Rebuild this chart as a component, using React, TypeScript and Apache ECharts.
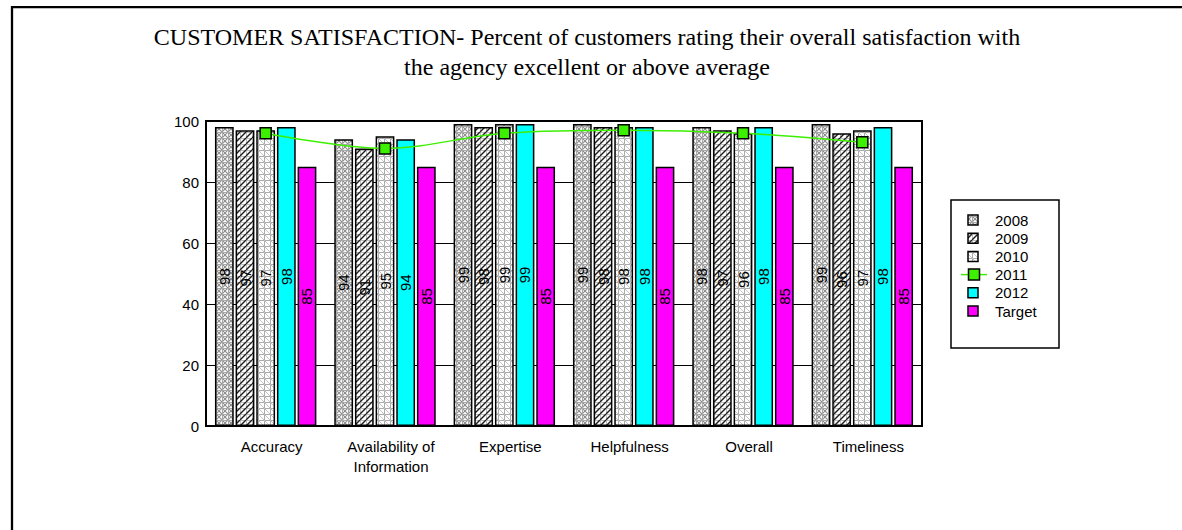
import React, { useEffect, useRef } from 'react';
import * as echarts from 'echarts';

// Survey categories and yearly results (percent rating excellent / above average)
const categories = ['Accuracy', 'Availability of\nInformation', 'Expertise', 'Helpfulness', 'Overall', 'Timeliness'];
const values2008 = [98, 94, 99, 99, 98, 99];
const values2009 = [97, 91, 98, 98, 97, 96];
const values2010 = [97, 95, 99, 98, 96, 97];
const values2011 = [96, 91, 96, 97, 96, 93];
const values2012 = [98, 94, 99, 98, 98, 98];
const valuesTarget = [85, 85, 85, 85, 85, 85];
const legendNames = ['2008', '2009', '2010', '2011', '2012', 'Target'];
const titleLines = [
  'CUSTOMER SATISFACTION- Percent of customers rating their overall satisfaction with',
  'the agency excellent or above average',
];

const GREEN = '#3cf000';
const CYAN = '#00ffff';
const MAGENTA = '#ff00ff';
const SANS = '"Liberation Sans", Arial, sans-serif';
const SERIF = '"Liberation Serif", "Times New Roman", serif';

type Painter = (ctx: CanvasRenderingContext2D, s: number) => void;

function tile(size: number, paint: Painter) {
  const c = document.createElement('canvas');
  c.width = size;
  c.height = size;
  const ctx = c.getContext('2d') as CanvasRenderingContext2D;
  ctx.fillStyle = '#ffffff';
  ctx.fillRect(0, 0, size, size);
  paint(ctx, size);
  return { image: c.toDataURL(), repeat: 'repeat', imageWidth: size, imageHeight: size } as any;
}

function seg(ctx: CanvasRenderingContext2D, x1: number, y1: number, x2: number, y2: number) {
  ctx.beginPath();
  ctx.moveTo(x1, y1);
  ctx.lineTo(x2, y2);
  ctx.stroke();
}

// gray cross-hatch
const pattern2008 = tile(6, (ctx, s) => {
  ctx.strokeStyle = '#8a8a8a';
  ctx.lineWidth = 1.1;
  for (let k = -1; k <= 1; k++) {
    seg(ctx, k * s, 0, k * s + s, s);
    seg(ctx, k * s + s, 0, k * s, s);
  }
  ctx.strokeStyle = '#a8a8a8';
  ctx.lineWidth = 1;
  seg(ctx, 0, 0.5, s, 0.5);
  seg(ctx, 0.5, 0, 0.5, s);
});

// dark diagonal hatch
const pattern2009 = tile(6, (ctx, s) => {
  ctx.strokeStyle = '#bdbdbd';
  ctx.lineWidth = 1;
  seg(ctx, 0.5, 0, 0.5, s);
  seg(ctx, 0, 0.5, s, 0.5);
  ctx.strokeStyle = '#1e1e1e';
  ctx.lineWidth = 1.4;
  for (let k = -1; k <= 1; k++) {
    seg(ctx, k * s, s, k * s + s, 0);
  }
});

// light grid with back-diagonals
const pattern2010 = tile(6, (ctx, s) => {
  ctx.strokeStyle = '#ababab';
  ctx.lineWidth = 1;
  seg(ctx, 0, 0.5, s, 0.5);
  seg(ctx, 0.5, 0, 0.5, s);
  ctx.strokeStyle = '#c4c4c4';
  for (let k = -1; k <= 1; k++) {
    seg(ctx, k * s, 0, k * s + s, s);
  }
});

const legendFills: any[] = [pattern2008, pattern2009, pattern2010, GREEN, CYAN, MAGENTA];

function barSeries(name: string, data: number[], fill: any) {
  return {
    name,
    type: 'bar',
    data,
    barCategoryGap: '15%',
    barGap: '10%',
    itemStyle: { color: fill, borderColor: '#000', borderWidth: 1.5 },
    label: {
      show: true,
      position: 'inside',
      rotate: 90,
      color: '#000',
      fontFamily: SANS,
      fontSize: 15,
      textBorderWidth: 0,
      textBorderColor: 'transparent',
    },
    z: 2,
  };
}

function legendGraphic() {
  const els: any[] = [
    {
      type: 'rect',
      shape: { x: 951, y: 200, width: 108, height: 148 },
      style: { fill: '#fff', stroke: '#000', lineWidth: 1.5 },
    },
  ];
  legendNames.forEach((name, i) => {
    const cy = 220 + i * 18.2;
    if (name === '2011') {
      els.push({
        type: 'line',
        shape: { x1: 961, y1: cy, x2: 987, y2: cy },
        style: { stroke: GREEN, lineWidth: 1.5 },
      });
      els.push({
        type: 'rect',
        shape: { x: 968.5, y: cy - 5.5, width: 11, height: 11 },
        style: { fill: GREEN, stroke: '#000', lineWidth: 1.5 },
      });
    } else {
      els.push({
        type: 'rect',
        shape: { x: 968, y: cy - 5, width: 10, height: 10 },
        style: { fill: legendFills[i], stroke: '#000', lineWidth: 1.5 },
      });
    }
    els.push({
      type: 'text',
      x: 995,
      y: cy,
      style: { text: name, fill: '#000', font: `15px ${SANS}`, align: 'left', verticalAlign: 'middle' },
    });
  });
  // outer frame of the page
  els.push({
    type: 'polyline',
    shape: { points: [[12, 530], [12, 7.2], [1182, 7.2]] },
    style: { stroke: '#000', lineWidth: 2.3, fill: 'none' },
  });
  return els;
}

export default function App() {
  const ref = useRef<HTMLDivElement>(null);

  useEffect(() => {
    if (!ref.current) return;
    const chart = echarts.init(ref.current, undefined, { renderer: 'svg' });
    chart.setOption({
      animation: false,
      backgroundColor: '#fff',
      title: {
        text: titleLines.join('\n'),
        left: 582,
        top: 17,
        textAlign: 'center',
        textStyle: {
          fontFamily: SERIF,
          fontSize: 24,
          fontWeight: 'normal',
          color: '#000',
          lineHeight: 30,
        },
      },
      grid: {
        left: 206,
        top: 121,
        width: 716,
        height: 305,
        show: true,
        borderColor: '#000',
        borderWidth: 2,
        backgroundColor: 'transparent',
      },
      xAxis: {
        type: 'category',
        data: categories,
        axisLine: { show: true, lineStyle: { color: '#000', width: 2 } },
        axisTick: { show: false },
        axisLabel: {
          interval: 0,
          color: '#000',
          fontFamily: SANS,
          fontSize: 15,
          lineHeight: 20,
          margin: 10,
          padding: [0, 0, 0, 12],
        },
      },
      yAxis: {
        type: 'value',
        min: 0,
        max: 100,
        interval: 20,
        axisLine: { show: true, lineStyle: { color: '#000', width: 2 } },
        axisTick: { show: false },
        axisLabel: { color: '#000', fontFamily: SANS, fontSize: 15, margin: 7 },
        splitLine: { show: true, lineStyle: { color: '#000', width: 1 } },
      },
      series: [
        barSeries('2008', values2008, pattern2008),
        barSeries('2009', values2009, pattern2009),
        barSeries('2010', values2010, pattern2010),
        {
          name: '2011',
          type: 'line',
          data: values2011,
          smooth: 0.35,
          symbol: 'rect',
          symbolSize: 11,
          lineStyle: { color: GREEN, width: 1.5 },
          itemStyle: { color: GREEN, borderColor: '#000', borderWidth: 1.5 },
          z: 5,
        },
        barSeries('2012', values2012, CYAN),
        barSeries('Target', valuesTarget, MAGENTA),
      ],
      graphic: legendGraphic(),
    });
    return () => chart.dispose();
  }, []);

  return (
    <div
      ref={ref}
      style={{ position: 'absolute', left: 0, top: 0, width: 1182, height: 530 }}
    />
  );
}
